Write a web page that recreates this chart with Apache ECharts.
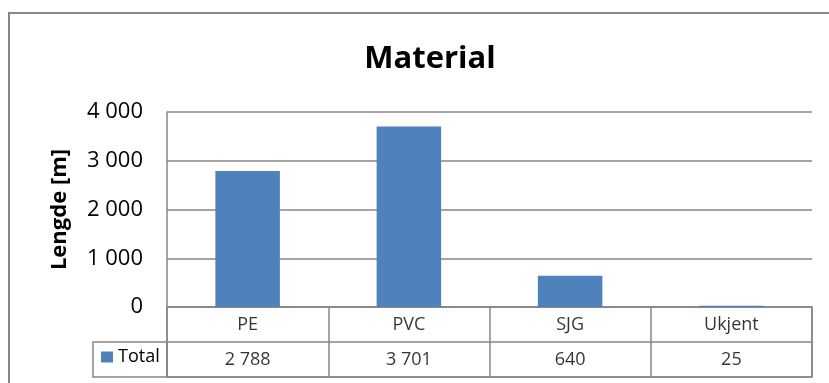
<!DOCTYPE html>
<html>
<head>
<meta charset="utf-8">
<script src="https://cdn.jsdelivr.net/npm/echarts@6/dist/echarts.min.js"></script>
<style>
  html, body { margin: 0; padding: 0; background: #fff; }
  #chart { width: 829px; height: 383px; }
</style>
</head>
<body>
<div id="chart"></div>
<script>
// Pipe length per material
const categories = ['PE', 'PVC', 'SJG', 'Ukjent'];
const totals = [2788, 3701, 640, 25];
const yTicks = [0, 1000, 2000, 3000, 4000];
const seriesName = 'Total';

const FONT = 'Open Sans';
const LINE = '#878787';
const BAR = '#4F81BD';

// Numbers with a space as thousands separator
function fmt(v) {
  return String(v).replace(/\B(?=(\d{3})+(?!\d))/g, ' ');
}

// Text cells of the data table below the plot: row 1.5 = categories, row 0.5 = values
const headerCells = categories.map((c, i) => ({ value: [i, 1.5], text: c }));
const valueCells = totals.map((v, i) => ({ value: [i, 0.5], text: fmt(v) }));

const chart = echarts.init(document.getElementById('chart'), null, { renderer: 'canvas' });

chart.setOption({
  animation: false,
  backgroundColor: '#fff',
  textStyle: { fontFamily: FONT },
  title: {
    text: 'Material',
    left: 425,
    textAlign: 'center',
    top: 39,
    textStyle: { fontFamily: FONT, fontSize: 31, fontWeight: 'bold', color: '#000' }
  },
  legend: {
    data: [seriesName],
    left: 101,
    top: 348,
    icon: 'rect',
    itemWidth: 12,
    itemHeight: 11,
    itemGap: 0,
    padding: 0,
    textStyle: { fontFamily: FONT, fontSize: 18, color: '#000' }
  },
  grid: [
    { left: 167, right: 17, top: 112, height: 195 },
    { left: 167, right: 17, top: 307, height: 70, show: true, borderColor: LINE, borderWidth: 1.5, backgroundColor: 'transparent' },
    { left: 93, width: 74, top: 342, height: 35, show: true, borderColor: LINE, borderWidth: 1.5, backgroundColor: 'transparent' }
  ],
  xAxis: [
    {
      gridIndex: 0, type: 'category', data: categories,
      axisLine: { show: false }, axisTick: { show: false }, axisLabel: { show: false }
    },
    {
      gridIndex: 1, type: 'category', data: categories,
      axisLine: { show: false }, axisTick: { show: false }, axisLabel: { show: false },
      splitLine: { show: true, interval: 0, lineStyle: { color: LINE, width: 1.5 } }
    },
    { gridIndex: 2, type: 'value', show: false }
  ],
  yAxis: [
    {
      gridIndex: 0, type: 'value',
      min: yTicks[0], max: yTicks[yTicks.length - 1], interval: 1000,
      name: 'Lengde [m]', nameLocation: 'middle', nameGap: 96,
      nameTextStyle: { fontFamily: FONT, fontSize: 22, fontWeight: 'bold', color: '#000' },
      axisLine: { show: true, lineStyle: { color: LINE, width: 1.5 } },
      axisTick: { show: false },
      axisLabel: { margin: 24, fontFamily: FONT, fontSize: 22, color: '#000', formatter: v => fmt(v) },
      splitLine: { show: true, lineStyle: { color: LINE, width: 1.5 } }
    },
    {
      gridIndex: 1, type: 'value', min: 0, max: 2, interval: 1,
      axisLine: { show: false }, axisTick: { show: false }, axisLabel: { show: false },
      splitLine: { show: true, lineStyle: { color: LINE, width: 1.5 } }
    },
    { gridIndex: 2, type: 'value', show: false }
  ],
  series: [
    {
      name: seriesName,
      type: 'bar',
      xAxisIndex: 0, yAxisIndex: 0,
      data: totals,
      barCategoryGap: '60%',
      itemStyle: { color: BAR }
    },
    {
      name: 'table',
      type: 'scatter',
      xAxisIndex: 1, yAxisIndex: 1,
      symbolSize: 0,
      silent: true,
      data: headerCells.concat(valueCells),
      label: {
        show: true, position: 'inside',
        fontFamily: FONT, fontSize: 18, color: '#000',
        formatter: p => p.data.text
      }
    }
  ],
  graphic: [
    {
      type: 'rect',
      shape: { x: 9, y: 13, width: 900, height: 500 },
      style: { fill: 'none', stroke: LINE, lineWidth: 2 },
      silent: true, z: 100
    }
  ]
});
</script>
</body>
</html>
